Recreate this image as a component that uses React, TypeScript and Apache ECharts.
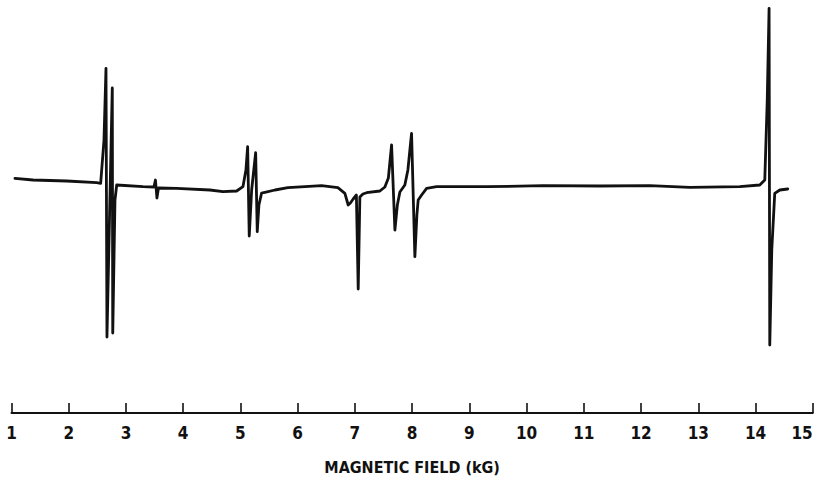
import React, { useEffect, useRef } from "react";
import * as echarts from "echarts";

// Magnetic field (kG) of each sampled point of the trace
const fieldKG: number[] = [
  1.061, 1.376, 1.964, 2.488, 2.558, 2.616, 2.651, 2.668, 2.761, 2.769, 2.808, 2.838,
  3.297, 3.489, 3.515, 3.541, 3.568, 3.886, 4.467, 4.694, 4.934, 5.044, 5.096, 5.126,
  5.154, 5.196, 5.266, 5.294, 5.323, 5.37, 5.428, 5.603, 5.83, 6.127, 6.418, 6.703,
  6.825, 6.883, 6.921, 6.97, 7.026, 7.058, 7.087, 7.14, 7.204, 7.437, 7.524, 7.585,
  7.641, 7.699, 7.742, 7.786, 7.873, 7.926, 7.99, 8.048, 8.083, 8.106, 8.166, 8.253,
  8.427, 9.3, 10.284, 11.279, 12.153, 12.852, 13.725, 14.074, 14.162, 14.205, 14.237,
  14.249, 14.284, 14.336, 14.424, 14.563,
];

// Derivative signal (arbitrary units) at each field value
const signal: number[] = [
  7.7, 6, 5, 3.3, 2.7, 46, 117.7, -151, 98, -147, -14, 1,
  -0.7, -1, 6, -12, -2, -2.3, -4, -5.7, -5, -0.7, 16, 39.3,
  -50, -4, 33.3, -45.7, -19, -7, -6.3, -4, -1.7, -0.7, 0.3, -1.7,
  -7.3, -19, -17, -13, -9, -103, -11, -8, -6.7, -5, -1, 8,
  41, -44, -19, -6, 1, 16, 52.7, -70.7, -29, -14, -9, -2.3,
  -0.7, -0.7, 0.3, 0, 0.3, -1.3, -0.7, 1, 6, 86, 177.7,
  -159, -64, -7.3, -4, -3,
];

const axisMin = 1;
const axisMax = 15;
const axisTitle = "MAGNETIC FIELD (kG)";

export default function App() {
  const ref = useRef<HTMLDivElement>(null);

  useEffect(() => {
    document.body.style.margin = "0";
    if (!ref.current) return;
    const chart = echarts.init(ref.current, undefined, { renderer: "svg" });
    const data = fieldKG.map((b, i) => [b, signal[i]]);
    const font = "'Liberation Sans Narrow', 'DejaVu Sans Condensed', sans-serif";
    chart.setOption({
      animation: false,
      backgroundColor: "#ffffff",
      grid: {
        left: 11.5,
        right: 4.25,
        top: 0,
        bottom: 68,
        containLabel: false,
        outerBoundsMode: "none",
      },
      xAxis: {
        type: "value",
        min: axisMin,
        max: axisMax,
        interval: 1,
        splitLine: { show: false },
        axisLine: { show: true, onZero: false, lineStyle: { color: "#111", width: 2 } },
        axisTick: { show: true, inside: true, length: 10, lineStyle: { color: "#111", width: 1.6 } },
        axisLabel: {
          show: true,
          showMinLabel: true,
          showMaxLabel: true,
          hideOverlap: false,
          alignMaxLabel: "right",
          margin: 11,
          color: "#111",
          fontFamily: font,
          fontWeight: "bold",
          fontSize: 17,
        },
        name: axisTitle,
        nameLocation: "middle",
        nameGap: 46,
        nameTextStyle: {
          color: "#111",
          fontFamily: font,
          fontWeight: "bold",
          fontSize: 16,
        },
      },
      yAxis: {
        type: "value",
        min: -227,
        max: 186,
        show: false,
        splitLine: { show: false },
      },
      series: [
        {
          type: "line",
          data,
          showSymbol: false,
          symbol: "none",
          clip: false,
          lineStyle: { color: "#111", width: 2.8, join: "round", cap: "round" },
          z: 3,
        },
      ],
    });
    return () => chart.dispose();
  }, []);

  return (
    <div
      ref={ref}
      style={{ position: "absolute", left: 0, top: 0, width: 817, height: 481 }}
    />
  );
}
